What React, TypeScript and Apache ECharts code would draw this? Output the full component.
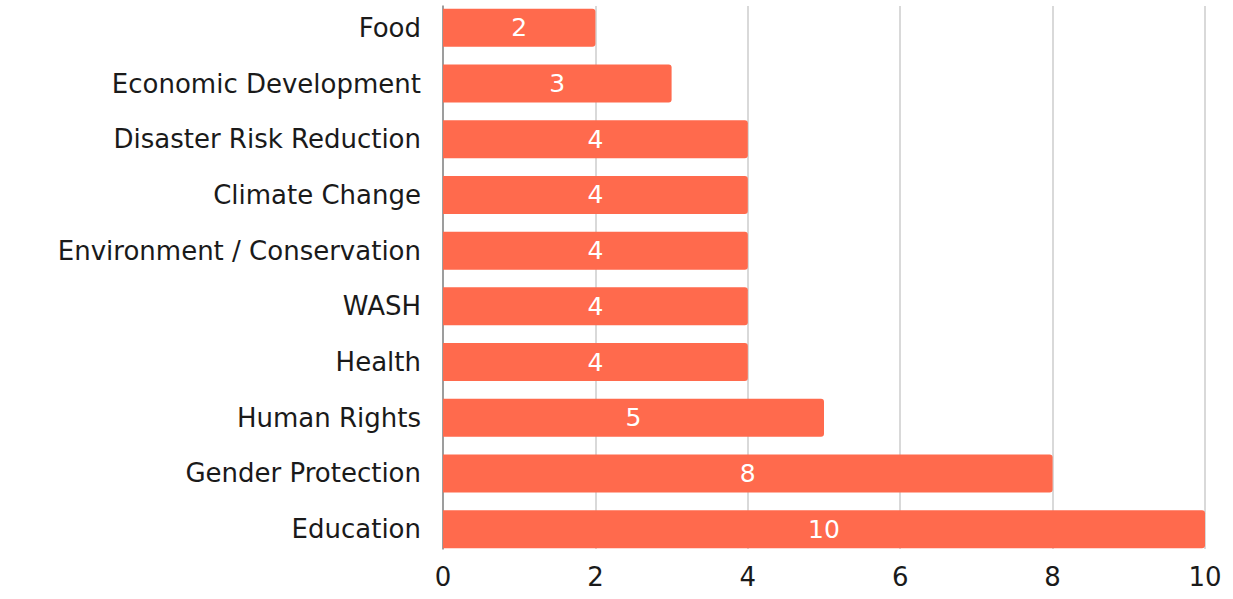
import React, { useEffect, useRef } from "react";
import * as echarts from "echarts";

const categories = [
  "Food",
  "Economic Development",
  "Disaster Risk Reduction",
  "Climate Change",
  "Environment / Conservation",
  "WASH",
  "Health",
  "Human Rights",
  "Gender Protection",
  "Education",
];
const values = [2, 3, 4, 4, 4, 4, 4, 5, 8, 10];
const xTicks = [0, 2, 4, 6, 8, 10];

const FONT = "DejaVu Sans";

export default function App() {
  const ref = useRef<HTMLDivElement>(null);
  useEffect(() => {
    if (!ref.current) return;
    const chart = echarts.init(ref.current, null, { renderer: "svg" });
    chart.setOption({
      animation: false,
      grid: [
        { left: 443, right: 28, top: 6, height: 543 },
        { left: 443, right: 28, top: -3, height: 560 },
      ],
      xAxis: [
        {
          gridIndex: 0,
          type: "value",
          min: xTicks[0],
          max: xTicks[xTicks.length - 1],
          interval: 2,
          axisLine: { show: false },
          axisTick: { show: false },
          splitLine: { show: true, lineStyle: { color: "#cccccc", width: 1.5 } },
          axisLabel: { color: "#1a1a1a", fontSize: 26, fontFamily: FONT, margin: 15 },
        },
        {
          gridIndex: 1,
          type: "value",
          min: 0,
          max: 10,
          show: false,
        },
      ],
      yAxis: [
        {
          gridIndex: 0,
          type: "category",
          inverse: true,
          data: categories,
          axisLine: { show: true, lineStyle: { color: "#888", width: 1.5 } },
          axisTick: { show: false },
          axisLabel: { show: false },
          splitLine: { show: false },
        },
        {
          gridIndex: 1,
          type: "category",
          inverse: true,
          data: categories,
          axisLine: { show: false },
          axisTick: { show: false },
          axisLabel: { color: "#1a1a1a", fontSize: 26, fontFamily: FONT, margin: 22 },
        },
      ],
      series: [
        {
          type: "bar",
          xAxisIndex: 1,
          yAxisIndex: 1,
          data: values,
          barWidth: 38,
          itemStyle: { color: "#FF6A4D", borderRadius: [0, 3, 3, 0] },
          label: {
            show: true,
            position: "inside",
            color: "#fff",
            fontSize: 25,
            fontFamily: FONT,
          },
        },
      ],
    });
    return () => chart.dispose();
  }, []);
  return <div ref={ref} style={{ width: 1233, height: 599, position: "absolute", left: 0, top: 0 }} />;
}
